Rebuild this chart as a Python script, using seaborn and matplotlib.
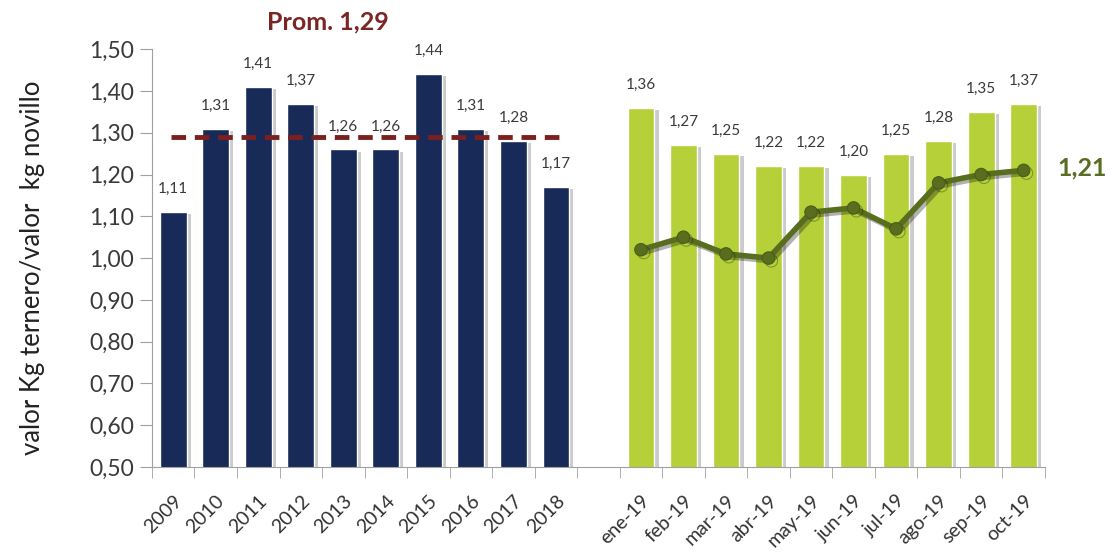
import numpy as np
import pandas as pd
import matplotlib.pyplot as plt
import matplotlib.patheffects as pe
import matplotlib.transforms as mtransforms
import seaborn as sns

# Datos
anios = ['2009', '2010', '2011', '2012', '2013', '2014', '2015', '2016', '2017', '2018']
rel_anual = [1.11, 1.31, 1.41, 1.37, 1.26, 1.26, 1.44, 1.31, 1.28, 1.17]
meses = ['ene-19', 'feb-19', 'mar-19', 'abr-19', 'may-19', 'jun-19',
         'jul-19', 'ago-19', 'sep-19', 'oct-19']
rel_mensual = [1.36, 1.27, 1.25, 1.22, 1.22, 1.20, 1.25, 1.28, 1.35, 1.37]
linea_mensual = [1.02, 1.05, 1.01, 1.00, 1.11, 1.12, 1.07, 1.18, 1.20, 1.21]
promedio = 1.29

cats = anios + [' '] + meses
df = pd.DataFrame({
    'cat': cats,
    'valor': rel_anual + [np.nan] + rel_mensual,
    'grupo': ['anual'] * len(anios) + ['anual'] + ['mensual'] * len(meses),
})

sns.set_style('white')
plt.rcParams['font.family'] = ['Lato', 'DejaVu Sans']

fig, ax = plt.subplots(figsize=(11.14, 5.59), dpi=100)
sombra = [pe.SimplePatchShadow(offset=(3, -1.5), shadow_rgbFace='#8c8c8c', alpha=0.45), pe.Normal()]

sns.barplot(data=df, x='cat', y='valor', hue='grupo', dodge=False, order=cats,
            palette={'anual': '#182a58', 'mensual': '#b6d03a'}, width=0.63,
            saturation=1, legend=False, ax=ax)
for p in ax.patches:
    p.set_path_effects(sombra)

# etiquetas de valores
for i, v in enumerate(df['valor']):
    if not np.isnan(v):
        ax.text(i, v + 0.055, f'{v:.2f}'.replace('.', ','), ha='center', va='center',
                fontsize=11, color='#3a3a3a')

# promedio
ax.hlines(promedio, -0.05, len(anios) - 0.9, colors='#7b1f1f', linestyles=(0, (3, 1.8)), lw=3.5)
ax.text(3.64, 1.565, 'Prom. ' + f'{promedio:.2f}'.replace('.', ','), ha='center', va='center',
        fontsize=18, fontweight='bold', color='#7b2525')

# linea mensual
pos_meses = np.arange(len(anios) + 1, len(cats))
sns.lineplot(x=pos_meses, y=linea_mensual, color='#586d1e', lw=4, marker='o',
             markersize=9, markeredgecolor='#4a5c18', ax=ax,
             path_effects=[pe.SimpleLineShadow(offset=(2, -2), alpha=0.3), pe.Normal()])
ax.text(pos_meses[-1] + 0.8, linea_mensual[-1] + 0.005,
        f'{linea_mensual[-1]:.2f}'.replace('.', ','), ha='left', va='center',
        fontsize=18, fontweight='bold', color='#5a6e22')

ax.set_ylim(0.5, 1.5)
ax.set_yticks(np.arange(0.5, 1.501, 0.1))
ax.set_yticklabels([f'{t:.2f}'.replace('.', ',') for t in np.arange(0.5, 1.501, 0.1)],
                   fontsize=16.5, color='#3a3a3a')
ax.set_xlim(-0.5, len(cats) - 0.5)
ax.set_xticks(range(len(cats)))
ax.set_xticklabels(cats, rotation=45, ha='right', va='top', rotation_mode='anchor',
                   fontsize=14, color='#333333')
desplazamiento = mtransforms.ScaledTranslation(0.05, 0, fig.dpi_scale_trans)
for lab in ax.get_xticklabels():
    lab.set_transform(lab.get_transform() + desplazamiento)
ax.tick_params(axis='x', which='major', length=0, pad=18)
ax.set_xticks(np.arange(-0.5, len(cats), 1), minor=True)
ax.tick_params(axis='x', which='minor', length=8, color='#a0a0a0', direction='out', bottom=True)
ax.tick_params(axis='y', length=9, color='#a0a0a0', direction='out', left=True, pad=4)
ax.set_xlabel('')
ax.set_ylabel('valor Kg ternero/valor  kg novillo', fontsize=18.5, color='#222222')
ax.yaxis.set_label_coords(-0.12, 0.476)

for s in ['top', 'right']:
    ax.spines[s].set_visible(False)
ax.spines['left'].set_color('#a0a0a0')
ax.spines['bottom'].set_color('#a0a0a0')

plt.subplots_adjust(left=0.1364, right=0.938, top=0.912, bottom=0.1646)
plt.savefig('out.png', dpi=100)
